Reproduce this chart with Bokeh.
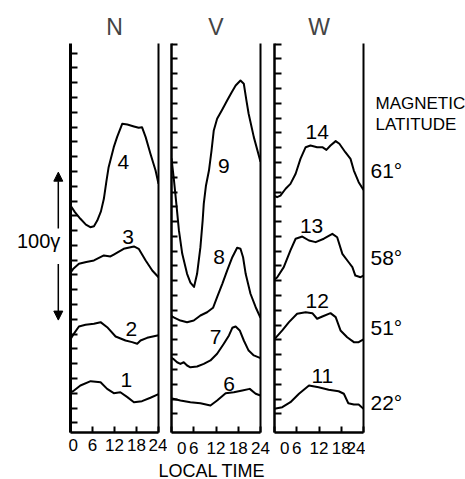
from bokeh.plotting import figure
from bokeh.layouts import row, column
from bokeh.models import FixedTicker, LinearAxis, Label, Arrow, NormalHead, Range1d
from bokeh.core.properties import value
from bokeh.embed import file_html
from bokeh.resources import INLINE

FONT = "Liberation Sans"

# ---- data: local time (h) vs. field (gamma, arbitrary baseline per station) ----
hour_ticks = [0, 6, 12, 18, 24]

# Panel N
n4_h = [0, 1.2, 2.7, 4.2, 5.4, 6.4, 7.3, 8.3, 9.1, 9.8, 10.4, 11.8, 12.7, 14.1, 15.5, 17.3, 18.6, 19.5, 20.5, 21.8, 23.2, 24]
n4_v = [153.5, 149.0, 144.5, 140.5, 138.8, 139.5, 143.3, 149.5, 158.0, 170.0, 179.4, 192.9, 199.7, 208.7, 208.2, 206.9, 206.0, 206.4, 199.7, 188.4, 177.1, 168.2]
n3_h = [0, 0.7, 2.3, 4.3, 6.4, 9.1, 10.9, 11.8, 14.5, 17.3, 18.6, 20.5, 22.3, 24]
n3_v = [108.0, 110.5, 114.1, 115.3, 116.3, 119.7, 119.0, 120.3, 124.2, 125.8, 124.2, 116.3, 109.5, 105.0]
n2_h = [0, 0.7, 2.3, 4.1, 6.4, 8.2, 10.0, 12.3, 15.0, 16.8, 18.2, 19.1, 20.9, 24]
n2_v = [63.0, 66.0, 71.7, 72.8, 73.5, 74.6, 71.2, 64.9, 62.2, 61.1, 60.0, 62.2, 64.0, 65.8]
n1_h = [0, 0.7, 2.7, 5.5, 8.2, 10.0, 11.8, 13.6, 15.5, 17.3, 19.5, 21.8, 24]
n1_v = [27.0, 27.9, 31.8, 34.7, 34.0, 29.5, 26.6, 27.2, 23.9, 20.5, 21.2, 23.5, 26.0]

# Panel V
v9_h = [0, 0.67, 1.35, 2.0, 2.9, 4.2, 5.1, 6.07, 6.9, 7.8, 8.4, 8.7, 9.3, 10.1, 10.8, 11.4, 12.3, 13.7, 15.0, 16.2, 17.3, 18.6, 19.5, 20.2, 20.8, 22.2, 24]
v9_v = [185.3, 170.4, 153.5, 136.6, 120.8, 107.3, 101.4, 98.4, 107.3, 125.3, 143.3, 154.6, 167.0, 177.1, 190.7, 204.2, 212.1, 218.4, 224.5, 229.9, 234.6, 238.0, 235.8, 224.5, 215.5, 199.7, 183.0]
v8_h = [0, 0.45, 2.4, 4.2, 6.0, 7.8, 9.6, 11.2, 12.3, 13.7, 15.0, 16.4, 17.7, 18.6, 19.3, 20.0, 21.3, 22.7, 24]
v8_v = [79.0, 78.0, 75.7, 74.6, 75.7, 79.1, 81.3, 84.3, 91.5, 100.5, 109.5, 118.5, 124.9, 124.2, 118.5, 107.3, 93.8, 84.7, 77.5]
v7_h = [0, 0.45, 1.5, 2.4, 3.3, 4.2, 5.1, 6.9, 8.7, 10.5, 12.3, 14.1, 15.5, 16.4, 17.3, 18.4, 19.5, 20.8, 22.2, 24]
v7_v = [50.5, 49.8, 47.5, 46.4, 47.5, 45.3, 44.1, 44.6, 46.4, 48.7, 53.2, 60.0, 65.6, 70.8, 71.7, 69.0, 62.2, 55.4, 52.1, 50.3]
v6_h = [0, 0.45, 2.4, 5.1, 7.8, 10.5, 12.3, 14.6, 16.8, 19.1, 21.1, 22.7, 24]
v6_v = [23.0, 22.8, 21.6, 20.5, 19.8, 18.3, 21.6, 26.6, 27.2, 28.4, 29.5, 26.2, 25.0]

# Panel W
w14_h = [0, 0.7, 1.6, 3.0, 4.3, 5.7, 7.0, 8.4, 9.7, 11.5, 12.9, 14.0, 15.1, 16.5, 17.5, 19.1, 20.5, 21.4, 22.7, 24]
w14_v = [160.0, 159.1, 160.2, 164.8, 168.1, 174.9, 185.0, 192.9, 194.0, 192.9, 192.9, 191.1, 194.0, 197.0, 195.2, 189.5, 185.0, 177.1, 169.2, 164.0]
w13_h = [0, 0.7, 2.5, 4.3, 5.7, 7.5, 9.3, 11.1, 13.3, 15.6, 16.9, 18.3, 20.0, 21.0, 21.8, 23.2, 24]
w13_v = [103.5, 104.8, 111.8, 123.1, 131.0, 132.5, 129.8, 128.7, 131.0, 134.3, 132.0, 120.8, 115.1, 111.8, 106.1, 105.0, 106.1]
w12_h = [0, 0.3, 2.1, 3.9, 6.1, 8.4, 10.2, 11.5, 12.9, 15.1, 16.5, 17.8, 19.6, 21.4, 22.7, 24]
w12_v = [63.0, 64.0, 69.0, 74.6, 80.3, 81.3, 80.7, 76.9, 78.4, 80.7, 78.0, 69.0, 64.4, 61.1, 61.1, 63.0]
w11_h = [0, 2.1, 4.3, 6.6, 9.3, 11.9, 14.6, 17.3, 18.7, 19.9, 21.4, 22.7, 24]
w11_v = [16.0, 17.1, 20.5, 26.2, 31.8, 30.6, 28.9, 27.9, 26.2, 19.8, 18.9, 18.9, 16.0]

latitudes = ["61°", "58°", "51°", "22°"]
lat_levels = [177.1, 118.5, 71.2, 20.5]

scale_bar_gamma = 100
scale_bar_center = 126.0

Y_MAX = 263.0
FRAME_H = 389
TOP = 43
BOTTOM = 27
CAPTION_H = 20


def base_fig(fw, left_b, right_b, x_range, fh=FRAME_H, top=TOP, bottom=BOTTOM, y_range=None):
    p = figure(frame_width=fw, frame_height=fh,
               x_range=x_range, y_range=y_range or Range1d(0, Y_MAX),
               output_backend="svg", toolbar_location=None,
               x_axis_location=None, y_axis_location=None,
               min_border_left=left_b, min_border_right=right_b,
               min_border_top=top, min_border_bottom=bottom)
    p.outline_line_color = None
    p.xgrid.visible = False
    p.ygrid.visible = False
    p.background_fill_color = "white"
    p.border_fill_color = "white"
    return p


def make_panel(title, curves, labels, left_border, right_border, fw, tick_offset,
               tick_len, spine_w, zero_label):
    p = base_fig(fw, left_border, right_border, Range1d(0, 24))
    p.title.text = title
    p.title.align = "center"
    p.title.text_font = FONT
    p.title.text_font_size = "23px"
    p.title.text_font_style = "normal"
    p.title.standoff = 8

    left = LinearAxis(ticker=FixedTicker(ticks=[], minor_ticks=[tick_offset + 10 * k for k in range(26)]),
                      minor_tick_in=tick_len, minor_tick_out=0,
                      minor_tick_line_width=2, minor_tick_line_color="black",
                      major_tick_line_color=None, axis_line_width=spine_w)
    p.add_layout(left, "left")
    right = LinearAxis(ticker=FixedTicker(ticks=[]), major_tick_line_color=None,
                       minor_tick_line_color=None, axis_line_width=2)
    p.add_layout(right, "right")
    bottom = LinearAxis(ticker=FixedTicker(ticks=hour_ticks),
                        major_tick_in=6, major_tick_out=0, major_tick_line_width=2,
                        minor_tick_line_color=None, axis_line_width=2.5,
                        major_label_standoff=6, major_label_text_font_size="17px",
                        major_label_text_font=FONT, major_label_text_color="black",
                        major_label_overrides={0: zero_label})
    p.add_layout(bottom, "below")

    for h, v in curves:
        p.line(h, v, line_color="black", line_width=2, line_join="round")
    for (x, y, t) in labels:
        p.add_layout(Label(x=x, y=y, text=t, text_align="center", text_baseline="middle",
                           text_font=FONT, text_font_size="21px", text_color="black"))
    return p


# scale-bar strip on the left
ps = base_fig(68, 0, 0, Range1d(0, 1))
half = scale_bar_gamma / 2
ps.add_layout(Arrow(end=NormalHead(size=9, fill_color="black", line_color="black"),
                    x_start=0.85, y_start=scale_bar_center + 12, x_end=0.85,
                    y_end=scale_bar_center + half, line_width=1.5, line_color="black"))
ps.add_layout(Arrow(end=NormalHead(size=9, fill_color="black", line_color="black"),
                    x_start=0.85, y_start=scale_bar_center - 12, x_end=0.85,
                    y_end=scale_bar_center - half, line_width=1.5, line_color="black"))
ps.add_layout(Label(x=0.56, y=129.8, text="100γ", text_align="center", text_baseline="middle",
                    text_font=FONT, text_font_size="20px", text_color="black"))

pn = make_panel("N",
                [(n4_h, n4_v), (n3_h, n3_v), (n2_h, n2_v), (n1_h, n1_v)],
                [(14.4, 182.7, "4"), (15.7, 132.0, "3"), (16.6, 70.1, "2"), (15.2, 35.8, "1")],
                2, 9, 88, 6.5, 7, 3, "0")
pv = make_panel("V",
                [(v9_h, v9_v), (v8_h, v8_v), (v7_h, v7_v), (v6_h, v6_v)],
                [(14.1, 180.5, "9"), (12.8, 118.5, "8"), (11.9, 64.4, "7"), (15.5, 32.9, "6")],
                4, 10, 89, 12.6, 6, 2.5, "\u20070")
pw = make_panel("W",
                [(w14_h, w14_v), (w13_h, w13_v), (w12_h, w12_v), (w11_h, w11_v)],
                [(11.5, 203.0, "14"), (10.0, 139.3, "13"), (11.5, 89.2, "12"), (12.9, 38.5, "11")],
                4, 2, 89, 12.6, 7, 2.5, "\u20070")

# magnetic latitude strip on the right
pl = base_fig(100, 0, 0, Range1d(0, 1))
pl.add_layout(Label(x=0.10, y=222.4, text="MAGNETIC", text_align="left", text_baseline="middle",
                    text_font=FONT, text_font_size="17px", text_color="black"))
pl.add_layout(Label(x=0.10, y=208.2, text="LATITUDE", text_align="left", text_baseline="middle",
                    text_font=FONT, text_font_size="17px", text_color="black"))
pl.text(x=[0.05] * len(latitudes), y=lat_levels, text=latitudes,
        text_align="left", text_baseline="middle", text_font=value(FONT),
        text_font_size="21px", text_color="black")

# caption strip underneath
pc = base_fig(465, 0, 0, Range1d(0, 1), fh=CAPTION_H, top=0, bottom=0, y_range=Range1d(0, 1))
pc.add_layout(Label(x=0.455, y=0.5, text="LOCAL TIME", text_align="center", text_baseline="middle",
                    text_font=FONT, text_font_size="18px", text_color="black"))

layout = column(row(ps, pn, pv, pw, pl, spacing=0), pc, spacing=0)
open("out.html", "w").write(file_html(layout, INLINE))
